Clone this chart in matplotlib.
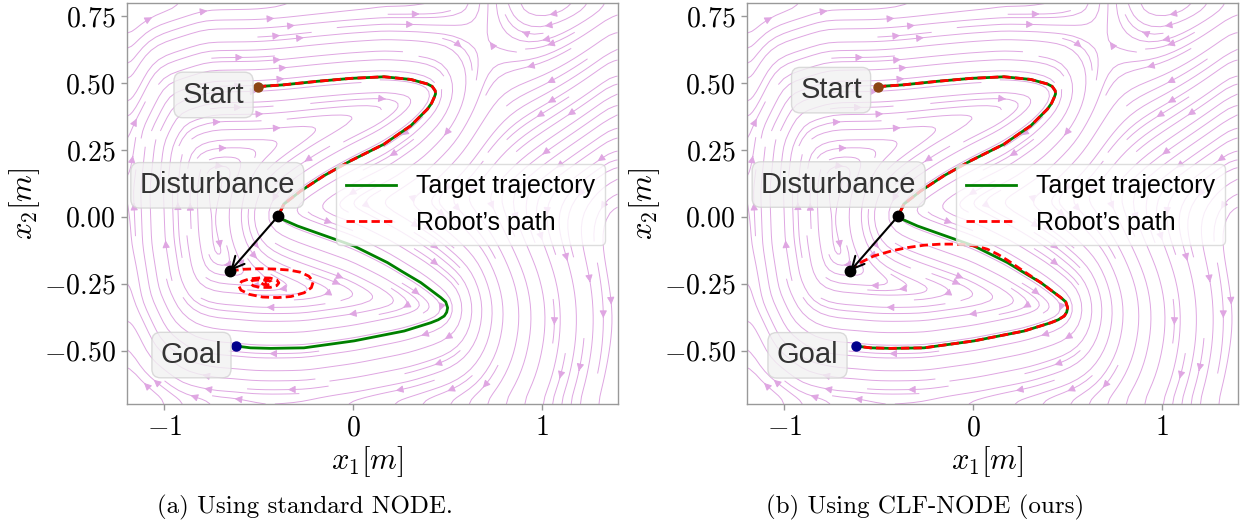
import numpy as np
import matplotlib
matplotlib.use("Agg")
import matplotlib.pyplot as plt
from matplotlib.path import Path
from matplotlib.lines import Line2D

plt.rcParams['mathtext.fontset'] = 'cm'
plt.rcParams['font.family'] = ['Liberation Sans', 'DejaVu Sans']

# ---------------------------------------------------------------- data
# demonstrated (target) trajectory, start -> goal
target_x = [-0.505, -0.367, -0.190, -0.013, 0.163, 0.305, 0.393, 0.418, 0.434, 0.436,
            0.429, 0.415, 0.393, 0.305, 0.163, -0.013, -0.155, -0.278, -0.367, -0.398,
            -0.376, -0.296, -0.172, 0.004, 0.181, 0.260, 0.358, 0.464, 0.490, 0.500,
            0.495, 0.482, 0.450, 0.411, 0.270, 0.004, -0.261, -0.438, -0.544, -0.623]
target_y = [0.487, 0.494, 0.507, 0.518, 0.524, 0.514, 0.497, 0.488, 0.472, 0.460,
            0.447, 0.425, 0.403, 0.341, 0.272, 0.210, 0.154, 0.097, 0.048, 0.003,
            -0.009, -0.034, -0.065, -0.109, -0.171, -0.205, -0.246, -0.302, -0.318, -0.340,
            -0.357, -0.371, -0.385, -0.396, -0.427, -0.464, -0.490, -0.492, -0.490, -0.483]
disturb_idx = 19          # index where the perturbation is applied
merge_idx = 26            # index where the CLF-NODE path rejoins the target

# state right after the perturbation
pushed_x, pushed_y = -0.651, -0.202

# robot path after the perturbation, standard NODE (falls into a spurious attractor)
node_x = [-0.651, -0.580, -0.500, -0.420, -0.340, -0.280, -0.235, -0.212, -0.222, -0.260,
          -0.330, -0.400, -0.480, -0.550, -0.595, -0.606, -0.592,
          -0.550, -0.490, -0.440, -0.405, -0.394, -0.405, -0.440, -0.490, -0.530, -0.547,
          -0.535, -0.500, -0.460, -0.435, -0.432, -0.450, -0.475, -0.487, -0.475, -0.458]
node_y = [-0.202, -0.196, -0.194, -0.195, -0.199, -0.207, -0.222, -0.243, -0.265, -0.284,
          -0.298, -0.302, -0.300, -0.290, -0.274, -0.258, -0.242,
          -0.232, -0.228, -0.229, -0.236, -0.247, -0.257, -0.264, -0.264, -0.258, -0.247,
          -0.238, -0.236, -0.237, -0.242, -0.249, -0.254, -0.253, -0.247, -0.242, -0.244]

# robot path after the perturbation, CLF-NODE (recovers onto the target)
clf_x = [-0.651, -0.597, -0.526, -0.430, -0.349, -0.260, -0.172, -0.090, -0.031, 0.030,
         0.075, 0.130, 0.181, 0.262]
clf_y = [-0.202, -0.171, -0.146, -0.127, -0.115, -0.106, -0.102, -0.102, -0.105, -0.112,
         -0.121, -0.140, -0.162, -0.201]

# guide curve closing the learned flow field around the left side (goal -> start)
loop_x = [-0.720, -0.850, -0.960, -1.040, -1.080, -1.090, -1.060, -0.960, -0.760]
loop_y = [-0.480, -0.460, -0.400, -0.280, -0.100, 0.100, 0.300, 0.440, 0.485]

x_ticks = [-1, 0, 1]
y_ticks = [-0.50, -0.25, 0.00, 0.25, 0.50, 0.75]
x_lim = (-1.2, 1.4)
y_lim = (-0.7, 0.8)

captions = ["(a) Using standard NODE.", "(b) Using CLF-NODE (ours)"]
label_pos = [
    {"Start": (-0.740, 0.456), "Disturbance": (-0.720, 0.118), "Goal": (-0.857, -0.517)},
    {"Start": (-0.753, 0.474), "Disturbance": (-0.713, 0.121), "Goal": (-0.878, -0.518)},
]


# ---------------------------------------------------------------- flow field
def _sig(z):
    return 1.0 / (1.0 + np.exp(-z))


def learned_field(nx=220, ny=200):
    xs = np.linspace(x_lim[0], x_lim[1], nx)
    ys = np.linspace(y_lim[0], y_lim[1], ny)
    gx, gy = np.meshgrid(xs, ys)
    cx = np.array(target_x + loop_x + [target_x[0]])
    cy = np.array(target_y + loop_y + [target_y[0]])
    seg = np.hypot(np.diff(cx), np.diff(cy))
    s = np.concatenate([[0], np.cumsum(seg)])
    sd = np.arange(0, s[-1], 0.004)
    px = np.interp(sd, s, cx)
    py = np.interp(sd, s, cy)
    pts = np.column_stack([gx.ravel(), gy.ravel()])
    dist = np.empty(len(pts))
    step = 3000
    for i in range(0, len(pts), step):
        p = pts[i:i + step]
        d2 = (px[None, :] - p[:, :1]) ** 2 + (py[None, :] - p[:, 1:]) ** 2
        dist[i:i + step] = np.sqrt(d2.min(axis=1))
    inside = Path(np.column_stack([cx, cy])).contains_points(pts)
    psi = np.where(inside, -dist, dist).reshape(gx.shape)

    # in the upper right the flow runs along the diagonal of the S
    th = np.arctan(0.55)
    across = (gx - 0.0) * np.sin(th) - (gy - 0.21) * np.cos(th)
    w = _sig((gx - 0.75) / 0.12) * _sig((gy - 0.0) / 0.1)
    psi = (1 - w) * psi + w * across

    # smoothing of the stream function
    k = np.exp(-0.5 * (np.arange(-9, 10) / 3.0) ** 2)
    k /= k.sum()
    pad = np.pad(psi, 9, mode='reflect')
    pad = np.apply_along_axis(lambda r: np.convolve(r, k, mode='same'), 1, pad)
    pad = np.apply_along_axis(lambda col: np.convolve(col, k, mode='same'), 0, pad)
    psi = pad[9:-9, 9:-9]
    dpsi_dy, dpsi_dx = np.gradient(psi, ys, xs)
    return xs, ys, dpsi_dy, -dpsi_dx


xs, ys, U, V = learned_field()

# ---------------------------------------------------------------- figure
fig = plt.figure(figsize=(12.41, 5.25), dpi=100)
ax_pos = [[0.1021, 0.2305, 0.3955, 0.7638], [0.6017, 0.2305, 0.3955, 0.7638]]
cap_x = [305 / 1241, 925 / 1241]
dash = (0, (3, 1.5))

box = dict(boxstyle='round,pad=0.3', fc='#f2f2f2', ec='#d2d2d2', alpha=0.8, lw=1.0)

for k in range(2):
    ax = fig.add_axes(ax_pos[k])
    ax.streamplot(xs, ys, U, V, density=1.8, color='#dfa6e2', linewidth=0.7,
                  arrowsize=1.1, arrowstyle='-|>', zorder=1)

    ax.plot(target_x, target_y, color='green', lw=2, zorder=3)
    # robot follows the target until the perturbation
    ax.plot(target_x[:disturb_idx + 1], target_y[:disturb_idx + 1], color='red',
            lw=2, ls=dash, zorder=4)
    if k == 0:
        ax.plot(node_x, node_y, color='red', lw=2, ls=dash, zorder=4)
    else:
        rx = clf_x + target_x[merge_idx:]
        ry = clf_y + target_y[merge_idx:]
        ax.plot(rx, ry, color='red', lw=2, ls=dash, zorder=4)

    ax.annotate('', xy=(pushed_x, pushed_y),
                xytext=(target_x[disturb_idx], target_y[disturb_idx]),
                arrowprops=dict(arrowstyle='->', color='black', lw=1.5,
                                mutation_scale=22, shrinkA=0, shrinkB=0), zorder=5)
    ax.plot([target_x[disturb_idx], pushed_x], [target_y[disturb_idx], pushed_y], 'o',
            color='black', ms=7.5, zorder=6, ls='none')
    ax.plot(target_x[0], target_y[0], 'o', color='#8B4513', ms=6.5, zorder=6)
    ax.plot(target_x[-1], target_y[-1], 'o', color='#00008B', ms=6.5, zorder=6)

    for name, (tx, ty) in label_pos[k].items():
        ax.text(tx, ty, name, fontsize=21, color='#333333', ha='center', va='center',
                bbox=box, zorder=7)

    handles = [Line2D([], [], color='green', lw=2),
               Line2D([], [], color='red', lw=2, ls=dash)]
    leg = ax.legend(handles, ['Target trajectory', 'Robot\u2019s path'], fontsize=18,
                    loc='center right', bbox_to_anchor=(1.0, 0.497), framealpha=0.8,
                    edgecolor='#d5d5d5')
    leg.set_zorder(8)

    ax.set_xlim(*x_lim)
    ax.set_ylim(*y_lim)
    ax.set_xticks(x_ticks)
    ax.set_xticklabels([f'${t:d}$' for t in x_ticks])
    ax.set_yticks(y_ticks)
    ax.set_yticklabels([f'${t:.2f}$' for t in y_ticks])
    ax.tick_params(labelsize=20, length=4, width=1, color='#999999', pad=4)
    for sp in ax.spines.values():
        sp.set_color('#999999')
        sp.set_linewidth(1.0)
    ax.set_xlabel(r'$x_1[m]$', fontsize=22)
    ax.set_ylabel(r'$x_2[m]$', fontsize=22)
    ax.xaxis.set_label_coords(0.49, -0.10)
    ax.yaxis.set_label_coords(-0.173, 0.5)

    fig.text(cap_x[k], 0.034, captions[k], fontsize=18, family='cmr10',
             ha='center', va='center')

fig.savefig('out.png', dpi=100)
